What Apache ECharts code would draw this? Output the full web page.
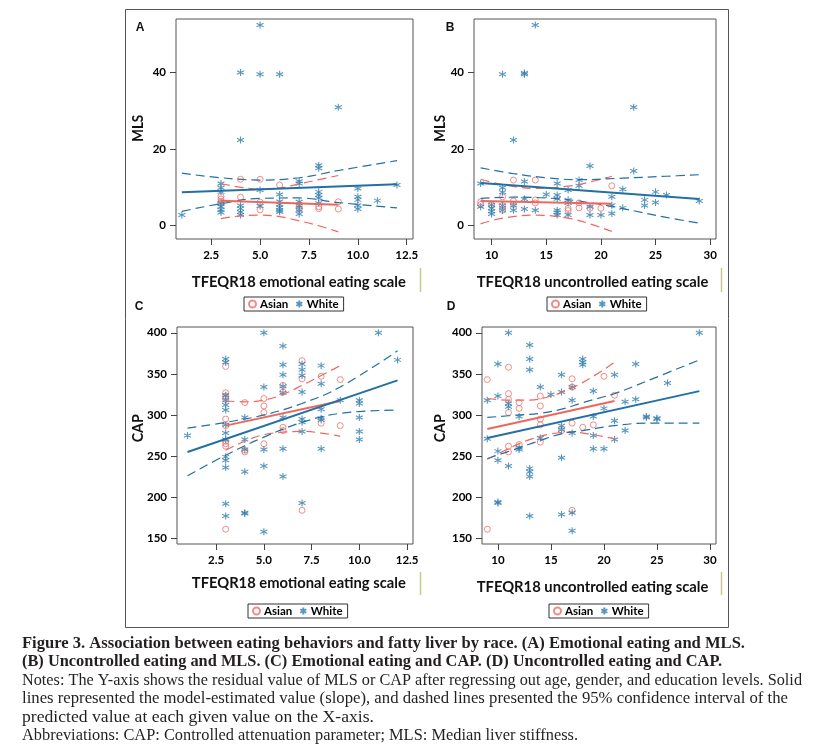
<!DOCTYPE html>
<html>
<head>
<meta charset="utf-8">
<script src="https://cdn.jsdelivr.net/npm/echarts@6/dist/echarts.min.js"></script>
<style>
html,body{margin:0;padding:0;background:#fff}
#chart{width:833px;height:756px}
</style>
</head>
<body>
<div id="chart"></div>
<script>
// ---- data ----
// A: emotional eating vs MLS
var emoMlsAsian = [[3,7.5],[3,6.8],[3,6.2],[3,5.8],[4,12.0],[4,7.3],[5,12.0],[5,6.0],[5,4.0],[6,10.5],
  [7,5.3],[7,4.2],[8,4.8],[8,4.3],[9,6.1],[9,4.2]];
var emoMlsWhite = [[1,2.6],[3,10.9],[3,9.8],[3,8.7],[3,5.7],[3,4.8],[3,4.0],[3,3.3],
  [4,40],[4,22.3],[4,5.1],[4,4.3],[4,3.4],[4,2.6],[5,52.5],[5,39.6],[5,9.2],[5,5.0],
  [6,39.6],[6,8.0],[6,6.2],[6,5.4],[6,4.6],[6,3.9],[6,3.5],[7,11.5],[7,10.9],[7,6.1],[7,5.1],[7,4.0],[7,2.9],
  [8,15.7],[8,14.9],[8,8.7],[8,7.9],[8,7.1],[8,5.7],[9,30.9],[10,9.6],[10,7.4],[10,6.6],[10,5.2],[10,4.2],
  [11,6.4],[12,10.5]];
var emoMlsAsianFit = [[3,6.4],[9,5.3]];
var emoMlsAsianUp = [[3,10.9],[4,9.9],[5,9.4],[6,9.7],[7,10.8],[8,11.9],[9,13.0]];
var emoMlsAsianLo = [[3,1.7],[4,2.4],[5,2.6],[6,2.2],[7,1.1],[8,-0.2],[9,-1.8]];
var emoMlsWhiteFit = [[1,8.6],[12,10.7]];
var emoMlsWhiteUp = [[1,13.6],[3,12.4],[5,11.8],[7,12.4],[9,14.3],[12,16.9]];
var emoMlsWhiteLo = [[1,3.6],[3,5.6],[5,7.0],[7,7.1],[9,5.9],[12,4.5]];

// B: uncontrolled eating vs MLS
var uncMlsAsian = [[9,6.1],[9,5.4],[10,5.3],[11,7.4],[11,5.1],[11,3.9],[12,11.8],[12,6.3],[12,5.4],
  [14,11.8],[14,6.6],[14,5.8],[17,4.4],[17,3.8],[18,5.8],[18,4.5],[19,4.4],[20,4.4],[21,10.3]];
var uncMlsWhite = [[9,10.9],[9,4.8],[10,5.3],[10,4.4],[10,3.6],[10,2.9],[11,39.6],[11,9.8],[11,8.6],[11,5.1],[11,3.9],
  [12,22.3],[12,5.1],[12,3.9],[13,39.9],[13,39.6],[13,11.4],[13,6.8],[13,4.2],[14,52.5],[14,3.9],[15,8.0],
  [16,10.9],[16,7.9],[16,6.9],[16,3.9],[16,3.3],[16,2.6],[17,9.2],[17,6.6],[17,5.8],[17,2.6],[18,11.8],[18,10.3],
  [19,15.5],[19,4.8],[19,2.6],[20,2.6],[21,7.4],[21,5.2],[21,3.0],[22,9.4],[22,4.5],[23,30.9],[23,14.2],
  [24,6.6],[24,5.1],[25,8.7],[25,5.9],[26,7.9],[29,6.3]];
var uncMlsAsianFit = [[9,6.3],[21,5.6]];
var uncMlsAsianUp = [[9,12.0],[11,10.6],[14,9.6],[17,10.2],[19,11.3],[21,12.8]];
var uncMlsAsianLo = [[9,0.3],[11,1.8],[14,2.6],[17,1.8],[19,0.3],[21,-1.7]];
var uncMlsWhiteFit = [[9,11.0],[29,6.8]];
var uncMlsWhiteUp = [[9,15.0],[12,13.5],[15,12.4],[18,11.9],[22,12.3],[26,12.8],[29,13.2]];
var uncMlsWhiteLo = [[9,7.0],[12,7.3],[15,7.1],[18,6.3],[22,4.3],[26,2.0],[29,0.5]];

// C: emotional eating vs CAP
var emoCapAsian = [[3,359],[3,327],[3,323],[3,319],[3,295],[3,287],[3,268],[3,265],[3,262],[3,161],
  [4,315],[4,257],[4,255],[5,320],[5,311],[5,303],[5,265],[6,336],[6,328],[6,285],[6,281],
  [7,366],[7,344],[7,184],[8,347],[8,290],[9,343],[9,287]];
var emoCapWhite = [[1,275],[3,368],[3,364],[3,324],[3,318],[3,312],[3,306],[3,288],[3,278],[3,270],[3,249],[3,245],[3,236],[3,192],[3,177],
  [4,297],[4,270],[4,258],[4,231],[4,180],[4,181],[5,400],[5,334],[5,258],[5,238],[5,158],
  [6,384],[6,361],[6,349],[6,335],[6,327],[6,297],[6,259],[6,225],[7,362],[7,355],[7,348],[7,328],[7,295],[7,291],[7,280],[7,193],
  [8,360],[8,338],[8,307],[8,296],[8,294],[8,259],[9,318],[10,318],[10,314],[10,297],[10,280],[10,270],[11,400],[12,367]];
var emoCapAsianFit = [[3,287],[9,317]];
var emoCapAsianUp = [[3,317],[4,316],[5,318],[6,325],[7,336],[8,348],[9,360]];
var emoCapAsianLo = [[3,257],[4,268],[5,276],[6,279],[7,280],[8,278],[9,274]];
var emoCapWhiteFit = [[1,255],[12,342]];
var emoCapWhiteUp = [[1,284],[3,291],[5,300],[7,314],[9,334],[12,378]];
var emoCapWhiteLo = [[1,226],[3,251],[5,273],[7,291],[9,302],[12,306]];

// D: uncontrolled eating vs CAP
var uncCapAsian = [[9,343],[9,161],[11,358],[11,326],[11,319],[11,303],[11,262],[11,255],[12,315],[12,308],[12,264],
  [14,323],[14,311],[14,295],[14,288],[14,267],[16,281],[17,344],[17,334],[17,290],[17,184],[18,285],[19,288],[20,347],[21,324]];
var uncCapWhite = [[9,318],[9,271],[10,362],[10,323],[10,256],[10,245],[10,193],[10,194],[11,400],[11,314],[11,310],[11,238],
  [12,298],[12,258],[12,260],[13,385],[13,368],[13,355],[13,235],[13,231],[13,225],[13,177],[14,334],[14,272],[15,325],
  [16,349],[16,328],[16,287],[16,282],[16,248],[16,179],[17,334],[17,318],[17,278],[17,181],[17,159],[18,368],[18,364],[18,361],
  [19,329],[19,298],[19,275],[19,259],[20,308],[20,259],[21,349],[21,293],[21,270],[22,316],[22,281],[23,362],[23,319],
  [24,298],[24,297],[25,296],[25,295],[26,339],[29,400]];
var uncCapAsianFit = [[9,283],[21,317]];
var uncCapAsianUp = [[9,320],[11,318],[13,318],[15,323],[17,333],[19,347],[21,364]];
var uncCapAsianLo = [[9,246],[11,259],[13,270],[15,277],[17,279],[19,276],[21,271]];
var uncCapWhiteFit = [[9,272],[29,329]];
var uncCapWhiteUp = [[9,297],[12,300],[14,302],[16,307],[18,315],[21,326],[24,341],[29,367]];
var uncCapWhiteLo = [[9,247],[12,260],[14,269],[16,277],[18,281],[21,287],[24,290],[29,290]];

// tick labels
var emoTicks = [2.5, 5, 7.5, 10, 12.5];
var uncTicks = [10, 15, 20, 25, 30];
var mlsTicks = [0, 20, 40];
var capTicks = [150, 200, 250, 300, 350, 400];

var xTitles = ['TFEQR18 emotional eating scale', 'TFEQR18 uncontrolled eating scale'];
var yTitles = ['MLS', 'CAP'];
var panelLetters = ['A', 'B', 'C', 'D'];
var captionLines = [
  'Figure 3. Association between eating behaviors and fatty liver by race. (A) Emotional eating and MLS.',
  '(B) Uncontrolled eating and MLS. (C) Emotional eating and CAP. (D) Uncontrolled eating and CAP.',
  'Notes: The Y-axis shows the residual value of MLS or CAP after regressing out age, gender, and education levels. Solid',
  'lines represented the model-estimated value (slope), and dashed lines presented the 95% confidence interval of the',
  'predicted value at each given value on the X-axis.',
  'Abbreviations: CAP: Controlled attenuation parameter; MLS: Median liver stiffness.'
];

// ---- styling / layout ----
var STAR = 'path://M5,0L5,10M0.67,2.5L9.33,7.5M0.67,7.5L9.33,2.5';
var BLUE = '#2f7cad', RED = '#ee7169';
var BLUE_LINE = '#2270a4', RED_LINE = '#f0665c';
var SANS = 'Lato';

var panels = [
  {grid:{left:176, top:19, width:237, height:220}, x:[0.70,12.82], y:[-3.67,54.07], xt:emoTicks, yt:mlsTicks, fmt:1,
   asian:emoMlsAsian, white:emoMlsWhite, af:emoMlsAsianFit, au:emoMlsAsianUp, al:emoMlsAsianLo, wf:emoMlsWhiteFit, wu:emoMlsWhiteUp, wl:emoMlsWhiteLo},
  {grid:{left:474, top:19, width:242, height:220}, x:[8.39,30.53], y:[-3.67,54.07], xt:uncTicks, yt:mlsTicks, fmt:0,
   asian:uncMlsAsian, white:uncMlsWhite, af:uncMlsAsianFit, au:uncMlsAsianUp, al:uncMlsAsianLo, wf:uncMlsWhiteFit, wu:uncMlsWhiteUp, wl:uncMlsWhiteLo},
  {grid:{left:177, top:327, width:236, height:217}, x:[0.45,12.81], y:[143,407], xt:emoTicks, yt:capTicks, fmt:1,
   asian:emoCapAsian, white:emoCapWhite, af:emoCapAsianFit, au:emoCapAsianUp, al:emoCapAsianLo, wf:emoCapWhiteFit, wu:emoCapWhiteUp, wl:emoCapWhiteLo},
  {grid:{left:482, top:327, width:234, height:217}, x:[8.5,30.57], y:[143,407], xt:uncTicks, yt:capTicks, fmt:0,
   asian:uncCapAsian, white:uncCapWhite, af:uncCapAsianFit, au:uncCapAsianUp, al:uncCapAsianLo, wf:uncCapWhiteFit, wu:uncCapWhiteUp, wl:uncCapWhiteLo}
];

var labelStyle = {fontFamily:SANS, fontWeight:'bold', fontSize:11.5, color:'#000', margin:10};
var grids = [], xAxes = [], yAxes = [], series = [];

panels.forEach(function(p, i){
  grids.push({left:p.grid.left, top:p.grid.top, width:p.grid.width, height:p.grid.height,
    show:true, borderColor:'#555', borderWidth:1, outerBoundsMode:'none'});
  xAxes.push({gridIndex:i, type:'value', min:p.x[0], max:p.x[1],
    axisLine:{show:false, onZero:false}, splitLine:{show:false},
    axisTick:{show:true, length:6, customValues:p.xt, lineStyle:{color:'#444'}},
    axisLabel:Object.assign({customValues:p.xt, formatter:function(v){ return p.fmt ? v.toFixed(1) : String(v); }}, labelStyle)});
  yAxes.push({gridIndex:i, type:'value', min:p.y[0], max:p.y[1],
    axisLine:{show:false, onZero:false}, splitLine:{show:false},
    axisTick:{show:true, length:6, customValues:p.yt, lineStyle:{color:'#444'}},
    axisLabel:Object.assign({customValues:p.yt}, labelStyle)});

  series.push({name:'Asian', type:'scatter', xAxisIndex:i, yAxisIndex:i, data:p.asian, symbol:'circle', symbolSize:6,
    itemStyle:{color:'rgba(0,0,0,0)', borderColor:RED, borderWidth:1}, silent:true});
  series.push({name:'White', type:'scatter', xAxisIndex:i, yAxisIndex:i, data:p.white, symbol:STAR, symbolSize:7,
    itemStyle:{color:'rgba(0,0,0,0)', borderColor:BLUE, borderWidth:1.1}, silent:true});

  function line(data, color, dashed){
    series.push({type:'line', xAxisIndex:i, yAxisIndex:i, data:data, showSymbol:false, smooth:dashed ? 0.4 : false,
      silent:true, lineStyle:{color:color, width:dashed ? 1.2 : 2, type:dashed ? [9,5] : 'solid'}});
  }
  line(p.au, RED_LINE, true); line(p.al, RED_LINE, true);
  line(p.wu, BLUE_LINE, true); line(p.wl, BLUE_LINE, true);
  line(p.af, RED_LINE, false); line(p.wf, BLUE_LINE, false);
});

// legends
var legendPos = [[244,297],[547,297],[248,604],[549,604]];
var legends = legendPos.map(function(pos){
  return {left:pos[0], top:pos[1], orient:'horizontal', selectedMode:false,
    padding:[1,5,1,4], itemGap:7, itemWidth:7, itemHeight:7,
    borderColor:'#333', borderWidth:1, borderRadius:0,
    textStyle:{fontFamily:SANS, fontWeight:'bold', fontSize:11.5, color:'#000', padding:[0,0,0,-1]},
    data:[{name:'Asian', icon:'circle'}, {name:'White', icon:STAR}]};
});

// text fitting helper
var mctx = document.createElement('canvas').getContext('2d');
function scaleFor(txt, font, w){ mctx.font = font; return w / mctx.measureText(txt).width; }

var graphics = [];
graphics.push({type:'rect', shape:{x:125.5, y:9.5, width:603, height:618}, style:{fill:'none', stroke:'#555', lineWidth:1}, silent:true});
[[420.5,268,292],[721.5,268,292],[420.5,572,595],[721.5,572,595]].forEach(function(l){
  graphics.push({type:'line', shape:{x1:l[0], y1:l[1], x2:l[0], y2:l[2]}, style:{stroke:'#cfc68e', lineWidth:1.5}, silent:true});
});
var letterPos = [[140,28],[450,28],[139,307],[451,307]];
panelLetters.forEach(function(t, i){
  graphics.push({type:'text', x:letterPos[i][0], y:letterPos[i][1],
    style:{text:t, fill:'#111', font:'bold 12px "Liberation Sans"', align:'center', verticalAlign:'middle'}});
});
var xtPos = [[298.8,281.7,0,214],[592.5,281.7,1,231.7],[298.8,583.3,0,214],[592.5,586.7,1,231.7]];
xtPos.forEach(function(q){
  var f = 'bold 16px ' + SANS;
  graphics.push({type:'text', x:q[0], y:q[1], scaleX:scaleFor(xTitles[q[2]], f, q[3]),
    style:{text:xTitles[q[2]], fill:'#111', font:f, align:'center', verticalAlign:'middle'}});
});
var ytPos = [[138.3,128.3,0,27],[440,128.3,0,27],[138.3,428.3,1,28],[440,428.3,1,28]];
ytPos.forEach(function(q){
  var f = 'bold 16px ' + SANS;
  graphics.push({type:'text', x:q[0], y:q[1], rotation:Math.PI/2, scaleX:scaleFor(yTitles[q[2]], f, q[3]),
    style:{text:yTitles[q[2]], fill:'#111', font:f, align:'center', verticalAlign:'middle'}});
});
var capBold = 'bold 16px "Liberation Serif"', capReg = '16.5px "Liberation Serif"';
var capW = [723, 700, 780, 766, 352, 556];
var capY = [643.5, 661.5, 680.5, 699, 717.5, 735.5];
captionLines.forEach(function(t, i){
  var b = i < 2, f = b ? capBold : capReg;
  graphics.push({type:'text', x:22, y:capY[i], scaleX:scaleFor(t, f, capW[i]),
    style:{text:t, fill:'#231f20', font:f, align:'left', verticalAlign:'middle'}});
});

var chart = echarts.init(document.getElementById('chart'), null, {renderer:'canvas'});
chart.setOption({
  animation:false,
  backgroundColor:'#fff',
  grid:grids, xAxis:xAxes, yAxis:yAxes,
  legend:legends,
  series:series,
  graphic:graphics
});
</script>
</body>
</html>
